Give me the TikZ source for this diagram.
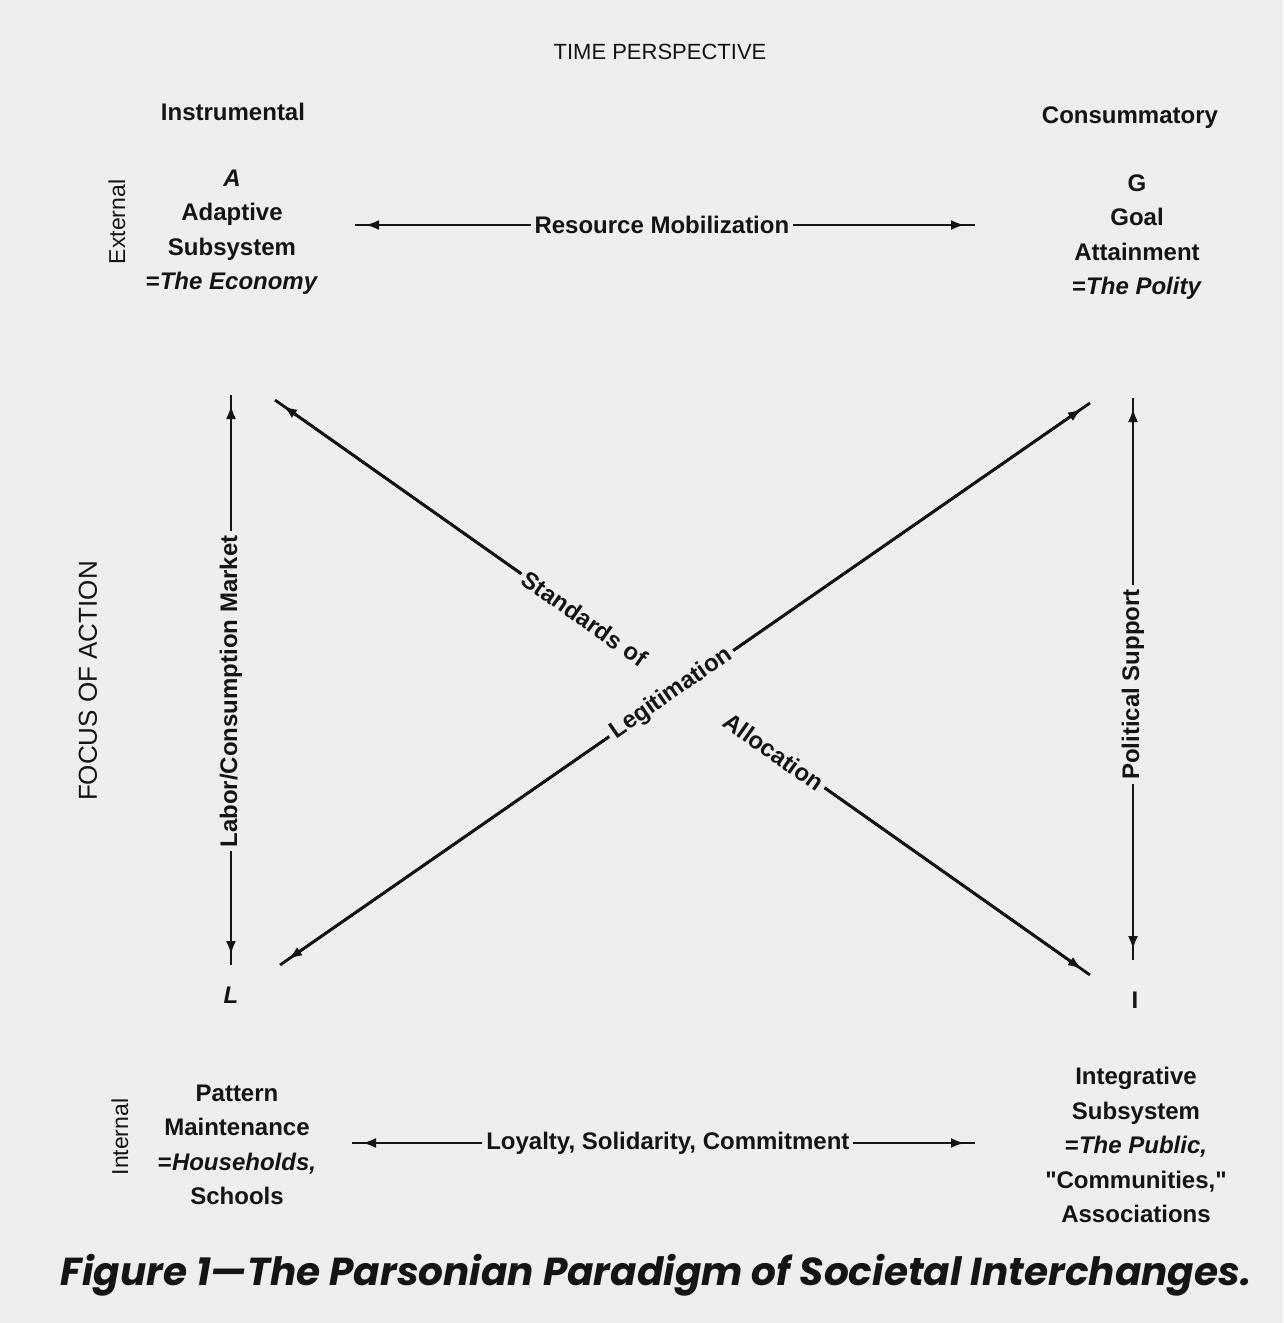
\documentclass[tikz,border=0pt]{standalone}
\usepackage{fontspec}
\setmainfont{Liberation Sans}
\newfontfamily\capfont{Poppins}
\usetikzlibrary{arrows.meta}
\definecolor{paper}{RGB}{238,238,236}
\definecolor{ink}{RGB}{20,20,20}
\tikzset{
  lbl/.style={font=\fontsize{24}{34.5}\selectfont\bfseries, text=ink, align=center, inner sep=0pt},
  plain/.style={font=\fontsize{22}{28}\selectfont, text=ink, inner sep=0pt},
  onl/.style={font=\fontsize{24}{28}\selectfont\bfseries, text=ink, fill=paper, inner sep=4pt},
  conn/.style={draw=ink, line width=2.8pt},
  tipA/.style={conn, {Latex[length=14pt,width=10pt]}-, shorten <=10pt},
  tipB/.style={conn, -{Latex[length=14pt,width=10pt]}, shorten >=10pt},
  tips/.style={conn, {Latex[length=14pt,width=10pt]}-{Latex[length=14pt,width=10pt]}, shorten <=10pt, shorten >=10pt}
}
\begin{document}
\begin{tikzpicture}[x=1pt,y=-1pt]
\fill[paper] (0,0) rectangle (1283,1323);
\useasboundingbox (0,0) rectangle (1283,1323);

% headings
\node[plain] (tp) at (660,52) {TIME PERSPECTIVE};
\node[lbl] (instr) at (233,112) {Instrumental};
\node[lbl] (cons) at (1130,118) {Consummatory};
\node[plain, font=\fontsize{23}{28}\selectfont, rotate=90] (ext) at (117,222) {External};
\node[plain, font=\fontsize{23}{28}\selectfont, rotate=90] (int) at (120,1137) {Internal};
\node[plain, font=\fontsize{26}{30}\selectfont, rotate=90] (foa) at (88,681) {FOCUS OF ACTION};

% subsystem blocks
\node[lbl] (A) at (232,232) {\textit{A}\\Adaptive\\Subsystem\\=\textit{The Economy}};
\node[lbl] (G) at (1137,237) {G\\Goal\\Attainment\\=\textit{The Polity}};
\node[lbl] (L) at (231,995) {\textit{L}};
\node[lbl] (I) at (1135,1000) {I};
\node[lbl] (PM) at (237,1145) {Pattern\\Maintenance\\=\textit{Households,}\\Schools};
\node[lbl] (IS) at (1136,1145) {Integrative\\Subsystem\\=\textit{The Public,}\\\textquotedbl Communities,\textquotedbl\\Associations};

% connector end points
\coordinate (rmL) at (355,225);  \coordinate (rmR) at (975,225);
\coordinate (lcT) at (231,395);  \coordinate (lcB) at (231,965);
\coordinate (psT) at (1133,398); \coordinate (psB) at (1133,960);
\coordinate (aiS) at (275,400);  \coordinate (aiE) at (1090,975);
\coordinate (lgS) at (280,965);  \coordinate (lgE) at (1090,403);
\coordinate (lyL) at (352,1143); \coordinate (lyR) at (975,1143);

% straight lines (full length) and inset arrow tips
\foreach \p/\q in {rmL/rmR, lcT/lcB, psT/psB, lgS/lgE, lyL/lyR}{
  \draw[conn] (\p) -- (\q);
  \draw[tips] (\p) -- (\q);
}

% labels on the connectors
\path (rmL) -- node[onl, pos=0.495] (rmlab) {Resource Mobilization} (rmR);
\path (lcB) -- node[onl, sloped, pos=0.48] (lclab) {Labor/Consumption Market} (lcT);
\path (psB) -- node[onl, sloped, pos=0.49] (pslab) {Political Support} (psT);
\path (lgS) -- node[onl, sloped, pos=0.483] (lglab) {Legitimation} (lgE);
\path (aiS) -- node[onl, sloped, pos=0.38] (solab) {Standards of}
               node[onl, sloped, pos=0.612] (allab) {Allocation} (aiE);
\path (lyL) -- node[onl, pos=0.507] (lylab) {Loyalty, Solidarity, Commitment} (lyR);

% A--I diagonal, broken by its labels
\draw[conn] (aiS) -- (solab);
\draw[tipA] (aiS) -- (solab);
\draw[conn] (allab) -- (aiE);
\draw[tipB] (allab) -- (aiE);

% caption
\node[font=\capfont\fontsize{39}{44}\selectfont\bfseries\itshape, text=ink, inner sep=0pt] (cap) at (656,1275)
  {Figure 1—The Parsonian Paradigm of Societal Interchanges.};
\end{tikzpicture}
\end{document}
